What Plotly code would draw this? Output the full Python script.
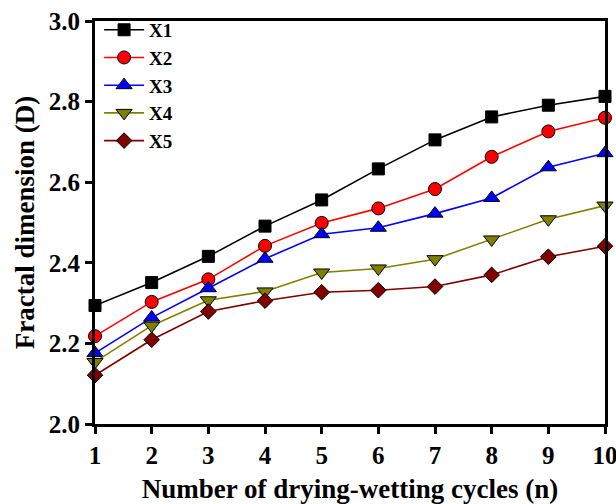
import plotly.graph_objects as go

cycles = [1, 2, 3, 4, 5, 6, 7, 8, 9, 10]
X1 = [2.294, 2.351, 2.416, 2.491, 2.556, 2.633, 2.705, 2.762, 2.791, 2.813]
X2 = [2.218, 2.303, 2.359, 2.442, 2.499, 2.535, 2.583, 2.663, 2.726, 2.760]
X3 = [2.176, 2.264, 2.337, 2.410, 2.471, 2.487, 2.522, 2.561, 2.637, 2.672]
X4 = [2.154, 2.244, 2.307, 2.329, 2.376, 2.386, 2.409, 2.458, 2.508, 2.542]
X5 = [2.121, 2.209, 2.279, 2.306, 2.327, 2.332, 2.341, 2.370, 2.415, 2.441]
names = ["X1", "X2", "X3", "X4", "X5"]
colors = ["#000000", "#ff0000", "#0000ff", "#808000", "#800000"]
symbols = ["square", "circle", "triangle-up", "triangle-down", "diamond"]
sizes = [12, 13, 14, 14, 12]

FONT = "Liberation Serif, Times New Roman, serif"

fig = go.Figure()
for name, ys, c, s, sz in zip(names, [X1, X2, X3, X4, X5], colors, symbols, sizes):
    fig.add_trace(go.Scatter(
        x=cycles, y=ys, name=name, mode="lines+markers",
        line=dict(color=c, width=1.6),
        marker=dict(symbol=s, size=sz, color=c, line=dict(color="black", width=1)),
        cliponaxis=False,
    ))

axis_common = dict(
    showline=True, linecolor="black", linewidth=3, mirror=True,
    ticks="outside", ticklen=7, tickwidth=2.5, tickcolor="black",
    showgrid=False, zeroline=False, automargin=False,
    ticklabeloverflow="allow",
    tickfont=dict(family=FONT, size=25, color="black", weight="bold"),
)

fig.update_layout(
    width=616, height=504,
    margin=dict(l=95, r=11, t=15, b=80),
    paper_bgcolor="white", plot_bgcolor="white",
    xaxis=dict(range=[1, 10], tickvals=cycles, **axis_common,
               title=dict(text="Number of drying-wetting cycles (n)", standoff=14,
                          font=dict(family=FONT, size=27, color="black", weight="bold"))),
    yaxis=dict(range=[2.0, 3.0], tickvals=[2.0, 2.2, 2.4, 2.6, 2.8, 3.0], tickformat=".1f",
               **axis_common,
               title=dict(text="Fractal dimension (D)", standoff=7,
                          font=dict(family=FONT, size=27, color="black", weight="bold"))),
    legend=dict(x=0.008, y=1.025, xanchor="left", yanchor="top",
                bgcolor="rgba(0,0,0,0)", borderwidth=0,
                font=dict(family=FONT, size=19, color="black", weight="bold"),
                tracegroupgap=0, itemwidth=40),
    showlegend=True,
)

fig.write_html("out.html")
